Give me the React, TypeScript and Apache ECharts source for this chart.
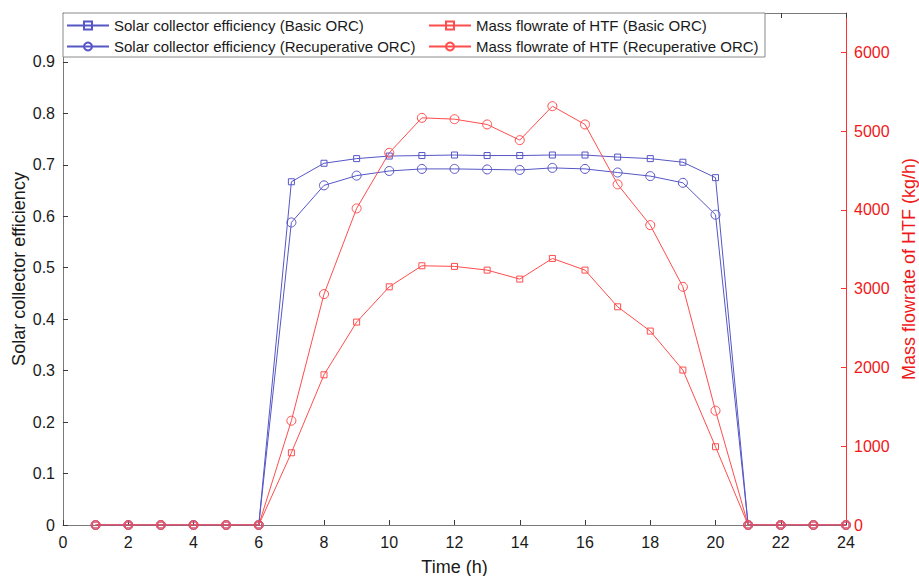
import React, { useEffect, useRef } from 'react';
import * as echarts from 'echarts';

const hours = [1, 2, 3, 4, 5, 6, 7, 8, 9, 10, 11, 12, 13, 14, 15, 16, 17, 18, 19, 20, 21, 22, 23, 24];
const effBasic = [0, 0, 0, 0, 0, 0, 0.667, 0.703, 0.712, 0.717, 0.718, 0.719, 0.718, 0.718, 0.719, 0.719, 0.715, 0.712, 0.705, 0.675, 0, 0, 0, 0];
const effRecup = [0, 0, 0, 0, 0, 0, 0.588, 0.66, 0.679, 0.688, 0.692, 0.692, 0.691, 0.69, 0.694, 0.692, 0.685, 0.678, 0.665, 0.603, 0, 0, 0, 0];
const massBasic = [0, 0, 0, 0, 0, 0, 917, 1907, 2576, 3024, 3291, 3283, 3236, 3122, 3384, 3236, 2770, 2462, 1967, 994, 0, 0, 0, 0];
const massRecup = [0, 0, 0, 0, 0, 0, 1324, 2931, 4019, 4725, 5169, 5152, 5085, 4886, 5317, 5085, 4324, 3807, 3024, 1451, 0, 0, 0, 0];

const seriesNames = [
  'Solar collector efficiency (Basic ORC)',
  'Solar collector efficiency (Recuperative ORC)',
  'Mass flowrate of HTF (Basic ORC)',
  'Mass flowrate of HTF (Recuperative ORC)',
];

const BLUE = '#5656c6';
const RED = '#ff4d4d';
const FONT = '"Liberation Sans", Arial, sans-serif';

function pairs(vals: number[]) {
  return hours.map((h, i) => [h, vals[i]]);
}

function mkSeries(name: string, vals: number[], color: string, symbol: string, size: number, yIdx: number) {
  return {
    name,
    type: 'line',
    xAxisIndex: 0,
    yAxisIndex: yIdx,
    data: pairs(vals),
    symbol,
    symbolSize: size,
    lineStyle: { color, width: 1 },
    itemStyle: { color: 'rgba(255,255,255,0)', borderColor: color, borderWidth: 1 },
    emphasis: { disabled: true },
  };
}

export default function App() {
  const ref = useRef<HTMLDivElement>(null);
  useEffect(() => {
    if (!ref.current) return;
    const chart = echarts.init(ref.current, null, { renderer: 'svg' });
    const tickLabel = { fontFamily: FONT, fontSize: 16 };
    chart.setOption({
      animation: false,
      backgroundColor: '#ffffff',
      textStyle: { fontFamily: FONT },
      grid: { left: 63, right: 73, top: 13, bottom: 51, outerBoundsMode: 'none', containLabel: false },
      xAxis: [
        {
          type: 'value',
          min: 0,
          max: 24,
          interval: 2,
          name: 'Time (h)',
          nameLocation: 'middle',
          nameGap: 33,
          nameMoveOverlap: false,
          nameTextStyle: { fontFamily: FONT, fontSize: 18, color: '#1a1a1a' },
          axisLine: { onZero: false, lineStyle: { color: '#7a7a7a', width: 1 } },
          axisTick: { inside: true, length: 5, lineStyle: { color: '#3a3a3a' } },
          axisLabel: { ...tickLabel, color: '#1a1a1a', margin: 9 },
          splitLine: { show: false },
        },
        {
          type: 'value',
          position: 'top',
          min: 0,
          max: 24,
          interval: 2,
          axisLine: { show: true, onZero: false, lineStyle: { color: '#7a7a7a', width: 1 } },
          axisTick: { inside: true, length: 5, lineStyle: { color: '#3a3a3a' } },
          axisLabel: { show: false },
          splitLine: { show: false },
        },
      ],
      yAxis: [
        {
          type: 'value',
          min: 0,
          max: 0.995,
          interval: 0.1,
          name: 'Solar collector efficiency',
          nameLocation: 'middle',
          nameGap: 35,
          nameMoveOverlap: false,
          nameTextStyle: { fontFamily: FONT, fontSize: 18, color: '#1a1a1a' },
          axisLine: { show: true, onZero: false, lineStyle: { color: '#7a7a7a', width: 1 } },
          axisTick: { show: true, inside: true, length: 5, lineStyle: { color: '#3a3a3a' } },
          axisLabel: {
            ...tickLabel,
            color: '#1a1a1a',
            margin: 8,
            showMaxLabel: false,
            formatter: (v: number) => (v === 0 ? '0' : v.toFixed(1)),
          },
          splitLine: { show: false },
        },
        {
          type: 'value',
          position: 'right',
          min: 0,
          max: 6500,
          interval: 1000,
          name: 'Mass flowrate of HTF (kg/h)',
          nameLocation: 'middle',
          nameRotate: 90,
          nameGap: 43,
          nameTextStyle: { fontFamily: FONT, fontSize: 18, color: '#f01818' },
          axisLine: { show: true, onZero: false, lineStyle: { color: '#ff3030', width: 1 } },
          axisTick: { show: true, inside: true, length: 5, lineStyle: { color: '#ff3030' } },
          axisLabel: {
            ...tickLabel,
            color: '#f01818',
            margin: 8,
            showMaxLabel: false,
            formatter: (v: number) => String(Math.round(v)),
          },
          splitLine: { show: false },
        },
      ],
      graphic: [
        {
          type: 'rect',
          z: 5,
          shape: { x: 63, y: 13, width: 702, height: 44 },
          style: { fill: '#ffffff', stroke: '#8a8a8a', lineWidth: 1 },
        },
      ],
      legend: [
        {
          z: 6,
          left: 66,
          top: 18,
          orient: 'vertical',
          padding: 0,
          itemGap: 6,
          itemWidth: 42,
          itemHeight: 10,
          selectedMode: false,
          textStyle: { fontFamily: FONT, fontSize: 15, color: '#1a1a1a' },
          data: [seriesNames[0], seriesNames[1]],
        },
        {
          z: 6,
          left: 428,
          top: 18,
          orient: 'vertical',
          padding: 0,
          itemGap: 6,
          itemWidth: 42,
          itemHeight: 10,
          selectedMode: false,
          textStyle: { fontFamily: FONT, fontSize: 15, color: '#1a1a1a' },
          data: [seriesNames[2], seriesNames[3]],
        },
      ],
      series: [
        mkSeries(seriesNames[0], effBasic, BLUE, 'rect', 6, 0),
        mkSeries(seriesNames[1], effRecup, BLUE, 'circle', 9, 0),
        mkSeries(seriesNames[2], massBasic, RED, 'rect', 6, 1),
        mkSeries(seriesNames[3], massRecup, RED, 'circle', 9, 1),
      ],
    });
    return () => chart.dispose();
  }, []);
  return <div ref={ref} style={{ position: 'fixed', left: 0, top: 0, width: 919, height: 576 }} />;
}
